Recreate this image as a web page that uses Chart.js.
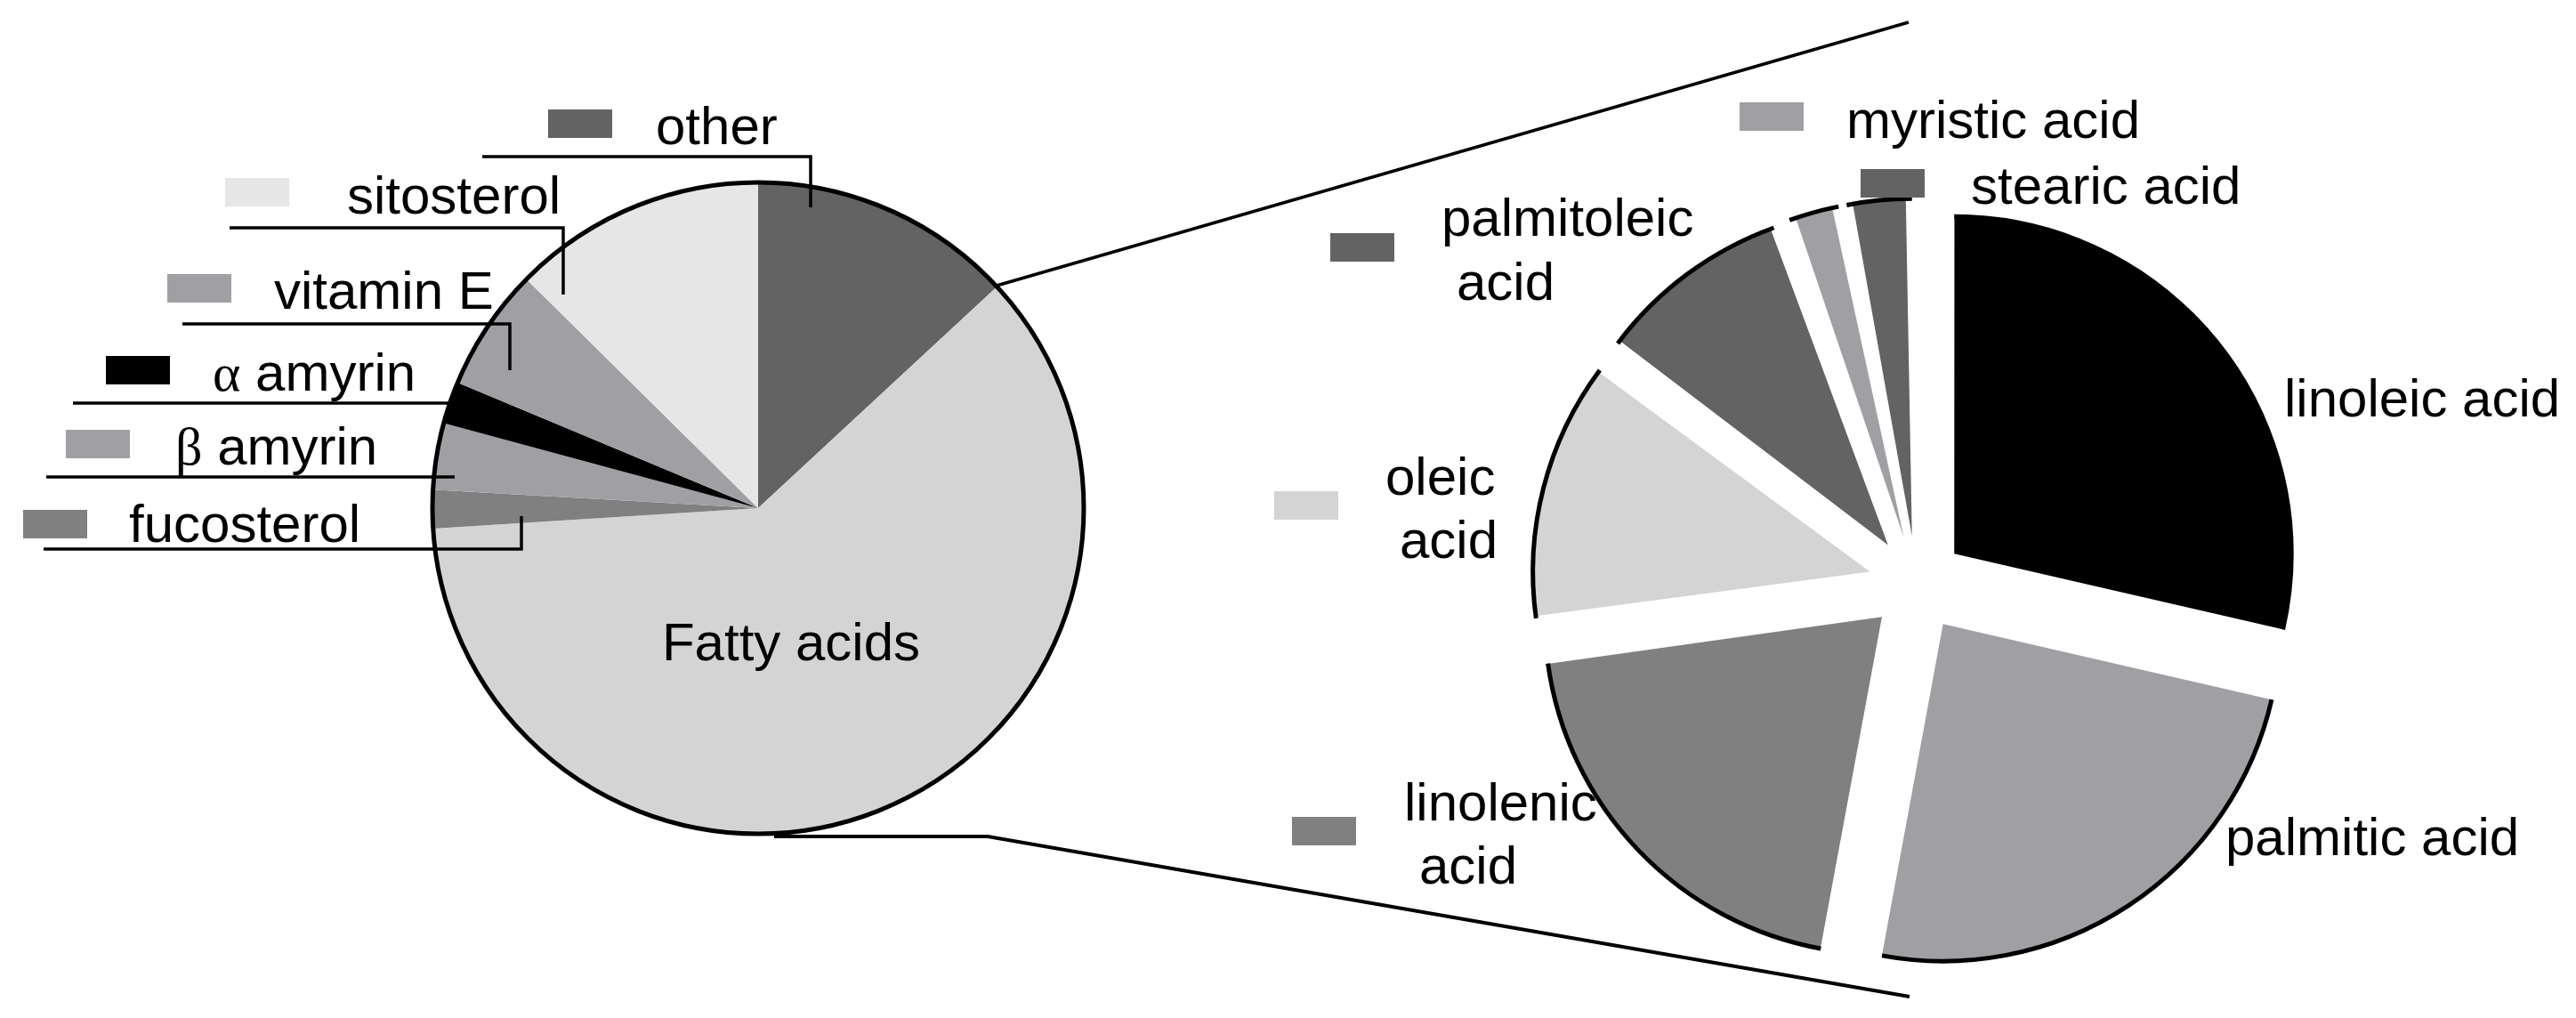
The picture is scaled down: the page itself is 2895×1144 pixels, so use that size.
<!DOCTYPE html>
<html>
<head>
<meta charset="utf-8">
<script src="https://cdn.jsdelivr.net/npm/chart.js@4.4.1/dist/chart.umd.min.js"></script>
<style>
  html, body { margin: 0; padding: 0; background: #fff; }
  #wrap { position: relative; width: 2895px; height: 1144px; overflow: hidden; }
  #wrap canvas { position: absolute; left: 0; top: 0; }
</style>
</head>
<body>
<div id="wrap">
  <canvas id="pieTotal" width="2895" height="1144"></canvas>
  <canvas id="pieAcids" width="2895" height="1144"></canvas>
</div>
<script>
// composition of the extract (%), clockwise from 12 o'clock
const totalLabels = ['other', 'Fatty acids', 'fucosterol', 'β amyrin', 'α amyrin', 'vitamin E', 'sitosterol'];
const totalValues = [13.1, 60.9, 1.9, 3.3, 2.1, 6.1, 12.6];
const totalColors = ['#636363', '#d4d4d4', '#808080', '#a0a0a4', '#000000', '#a0a0a4', '#e6e6e6'];

// fatty acid breakdown (%), clockwise from 12 o'clock
const acidLabels = ['linoleic acid', 'palmitic acid', 'linolenic acid', 'oleic acid', 'palmitoleic acid', 'myristic acid', 'stearic acid'];
const acidValues = [28.6, 24.3, 19.9, 12.4, 9.3, 2.4, 3.1];
const acidColors = ['#000000', '#a0a0a4', '#808080', '#d4d4d4', '#636363', '#a0a0a4', '#636363'];

const FONT       = '60px "Liberation Sans", Arial, sans-serif';
const GREEK_FONT = '60px "Liberation Serif", "DejaVu Serif", serif';
const BOX_W = 72, BOX_H = 32;

// label placement (page pixels): swatch, text baselines, leader polyline
const totalCallouts = [
    { i: 0, box: [616, 123], text: [[737, 162]], leader: [[542, 176], [911, 176], [911, 233]] },
    { i: 6, box: [253, 200], text: [[390, 240]], leader: [[258, 256], [633, 256], [633, 331]] },
    { i: 5, box: [188, 308], text: [[308, 347]], leader: [[205, 364], [573, 364], [573, 416]] },
    { i: 4, box: [119, 400], text: [[239, 439]], leader: [[82, 453], [505, 453]] },
    { i: 3, box: [74, 483],  text: [[197, 522]], leader: [[52, 536], [511, 536]] },
    { i: 2, box: [26, 573],  text: [[145, 609]], leader: [[49, 617], [586, 617], [586, 580]] },
    { i: 1, box: null,       text: [[889, 742]], align: 'center' }
];

const acidCallouts = [
    { i: 0, box: null,         text: [[2567, 468]] },
    { i: 1, box: null,         text: [[2501, 961]] },
    { i: 2, box: [1452, 918],  text: [[1578, 922], [1595, 993]] },
    { i: 3, box: [1432, 552],  text: [[1557, 556], [1573, 627]] },
    { i: 4, box: [1495, 262],  text: [[1620, 265], [1637, 337]] },
    { i: 5, box: [1955, 115],  text: [[2075, 155]] },
    { i: 6, box: [2091, 190],  text: [[2215, 229]] }
];

// lines joining the fatty acid slice to the exploded pie
const zoomLines = [
    { w: 3.5, pts: [[1120, 321], [2145, 25]] },
    { w: 4,   pts: [[870, 940], [1110, 940], [2146, 1120]] }
];

function drawText(ctx, str, x, y, align) {
    ctx.textAlign = align || 'left';
    ctx.textBaseline = 'alphabetic';
    const first = str.charAt(0);
    if (first === 'α' || first === 'β') {
        ctx.textAlign = 'left';
        ctx.font = GREEK_FONT;
        ctx.fillText(first, x, y);
        const gw = ctx.measureText(first).width;
        ctx.font = FONT;
        ctx.fillText(str.slice(1), x + gw, y);
        return;
    }
    ctx.font = FONT;
    ctx.fillText(str, x, y);
}

function drawCallouts(ctx, callouts, labels, colors) {
    ctx.save();
    callouts.forEach(c => {
        if (c.leader) {
            ctx.strokeStyle = '#000';
            ctx.lineWidth = 3.5;
            ctx.beginPath();
            c.leader.forEach((p, k) => k ? ctx.lineTo(p[0], p[1]) : ctx.moveTo(p[0], p[1]));
            ctx.stroke();
        }
        if (c.box) {
            ctx.fillStyle = colors[c.i];
            ctx.fillRect(c.box[0], c.box[1], BOX_W, BOX_H);
        }
        ctx.fillStyle = '#000';
        const words = labels[c.i].split(' ');
        const lines = c.text.length > 1 ? [words.slice(0, -1).join(' '), words[words.length - 1]] : [labels[c.i]];
        lines.forEach((ln, k) => drawText(ctx, ln, c.text[k][0], c.text[k][1], c.align));
    });
    ctx.restore();
}

const totalDecor = {
    id: 'totalDecor',
    afterDatasetsDraw(chart) {
        const ctx = chart.ctx;
        const arc = chart.getDatasetMeta(0).data[0];
        ctx.save();
        ctx.strokeStyle = '#000';
        ctx.lineWidth = 5;
        ctx.beginPath();
        ctx.arc(arc.x, arc.y, arc.outerRadius, 0, Math.PI * 2);
        ctx.stroke();
        ctx.restore();
        drawCallouts(ctx, totalCallouts, totalLabels, totalColors);
    }
};

// Chart.js grows small exploded slices; keep every slice at the ring radius
const acidDecor = {
    id: 'acidDecor',
    beforeDatasetsDraw(chart) {
        const meta = chart.getDatasetMeta(0);
        const r = meta.controller.outerRadius;
        meta.data.forEach(arc => {
            const shift = (arc.options.offset || 0) / 4;
            const circ = arc.endAngle - arc.startAngle;
            arc.outerRadius = r - shift * (1 - Math.sin(Math.min(Math.PI, circ)));
        });
    },
    afterDatasetsDraw(chart) {
        const ctx = chart.ctx;
        const meta = chart.getDatasetMeta(0);
        const r = meta.controller.outerRadius;
        ctx.save();
        ctx.strokeStyle = '#000';
        ctx.lineWidth = 5;
        meta.data.forEach(arc => {
            const shift = (arc.options.offset || 0) / 4;
            const mid = (arc.startAngle + arc.endAngle) / 2;
            ctx.beginPath();
            ctx.arc(arc.x + Math.cos(mid) * shift, arc.y + Math.sin(mid) * shift, r, arc.startAngle, arc.endAngle);
            ctx.stroke();
        });
        zoomLines.forEach(z => {
            ctx.lineWidth = z.w;
            ctx.beginPath();
            z.pts.forEach((p, k) => k ? ctx.lineTo(p[0], p[1]) : ctx.moveTo(p[0], p[1]));
            ctx.stroke();
        });
        ctx.restore();
        drawCallouts(ctx, acidCallouts, acidLabels, acidColors);
    }
};

const baseOptions = {
    responsive: false,
    animation: false,
    events: [],
    plugins: { legend: { display: false }, tooltip: { enabled: false } }
};

new Chart(document.getElementById('pieTotal'), {
    type: 'pie',
    data: {
        labels: totalLabels,
        datasets: [{ data: totalValues, backgroundColor: totalColors, borderWidth: 0, hoverOffset: 0, radius: 366 }]
    },
    options: { ...baseOptions, layout: { padding: { left: 452, right: 1643, top: 171, bottom: 173 } } },
    plugins: [totalDecor]
});

new Chart(document.getElementById('pieAcids'), {
    type: 'pie',
    data: {
        labels: acidLabels,
        datasets: [{ data: acidValues, backgroundColor: acidColors, borderWidth: 0, hoverOffset: 0, offset: 216, radius: 379 }]
    },
    options: { ...baseOptions, layout: { padding: { left: 1674, right: 261, top: 176, bottom: 8 } } },
    plugins: [acidDecor]
});
</script>
</body>
</html>
